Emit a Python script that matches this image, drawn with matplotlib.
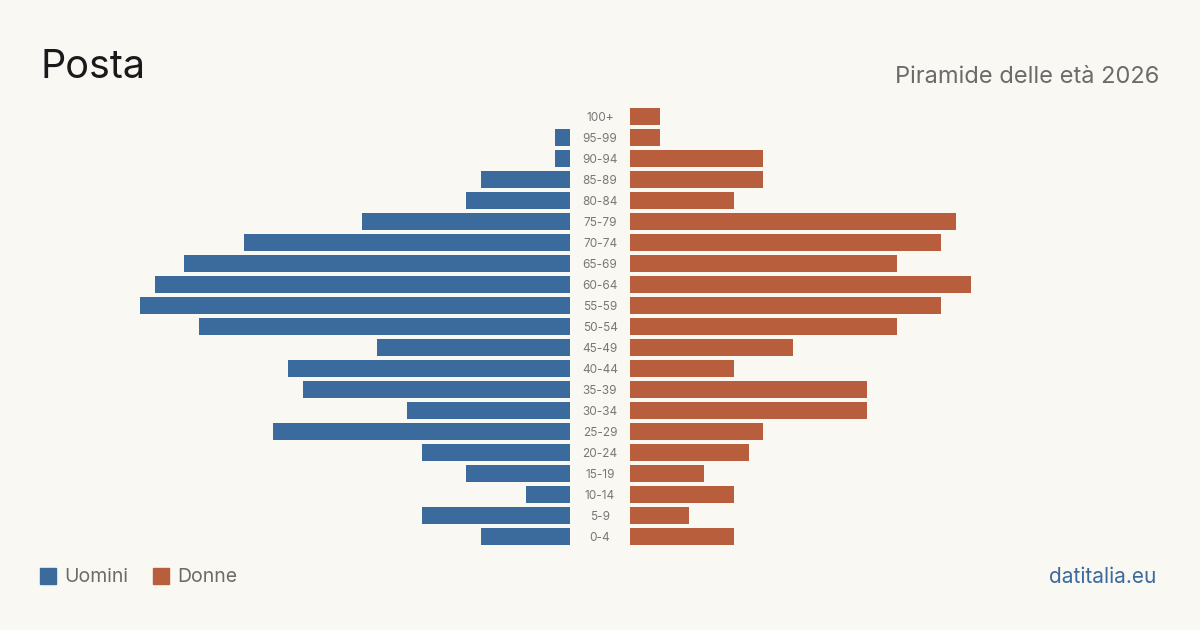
import matplotlib
matplotlib.use("Agg")
import matplotlib.pyplot as plt
from matplotlib.patches import Rectangle

age_groups = ["100+", "95-99", "90-94", "85-89", "80-84", "75-79", "70-74",
              "65-69", "60-64", "55-59", "50-54", "45-49", "40-44", "35-39",
              "30-34", "25-29", "20-24", "15-19", "10-14", "5-9", "0-4"]
men = [0, 1, 1, 6, 7, 14, 22, 26, 28, 29, 25, 13, 19, 18, 11, 20, 10, 7, 3, 10, 6]
women = [2, 2, 9, 9, 7, 22, 21, 18, 23, 21, 18, 11, 7, 16, 16, 9, 8, 5, 7, 4, 7]

BG = "#f9f8f3"
MALE = "#3b6a9c"
FEMALE = "#b95e3d"
plt.rcParams['font.family'] = ['Inter', 'DejaVu Sans']

W, H = 1200, 630
fig = plt.figure(figsize=(12, 6.3), dpi=100, facecolor=BG)

n = len(age_groups)
ypos = [n - 1 - i for i in range(n)]
top_px, bot_px = 106.0, 547.0
unit = 14.83
xmax = 530 / unit

def rect(x0, x1):
    return [x0 / W, 1 - bot_px / H, (x1 - x0) / W, (bot_px - top_px) / H]

axL = fig.add_axes(rect(40, 570))
axM = fig.add_axes(rect(570, 630))
axR = fig.add_axes(rect(630, 1160))
for ax in (axL, axM, axR):
    ax.set_facecolor("none")
    ax.set_ylim(-0.5, n - 0.5)
    ax.axis("off")

axL.barh(ypos, men, height=0.8, color=MALE)
axL.set_xlim(xmax, 0)
axR.barh(ypos, women, height=0.8, color=FEMALE)
axR.set_xlim(0, xmax)
axM.set_xlim(0, 1)
for y, lab in zip(ypos, age_groups):
    axM.text(0.5, y - 0.05, lab, ha="center", va="center", fontsize=8.5, color="#777777")

fig.text(40 / W, 1 - 67 / H, "Posta", fontsize=28.5, color="#1a1a1a", va="center", ha="left")
fig.text(1159 / W, 1 - 77 / H, "Piramide delle età 2026", fontsize=17, color="#6b6b6b",
         va="center", ha="right")

# legend
fig.patches.append(Rectangle((40 / W, 1 - 584 / H), 16 / W, 16 / H, transform=fig.transFigure,
                             color=MALE))
fig.text(64 / W, 1 - 577 / H, "Uomini", fontsize=14, color="#6b6b6b", va="center")
fig.patches.append(Rectangle((153 / W, 1 - 584 / H), 16 / W, 16 / H, transform=fig.transFigure,
                             color=FEMALE))
fig.text(177 / W, 1 - 577 / H, "Donne", fontsize=14, color="#6b6b6b", va="center")
fig.text(1156 / W, 1 - 577 / H, "datitalia.eu", fontsize=15, color=MALE, va="center", ha="right")

fig.savefig("out.png", dpi=100, facecolor=BG)
